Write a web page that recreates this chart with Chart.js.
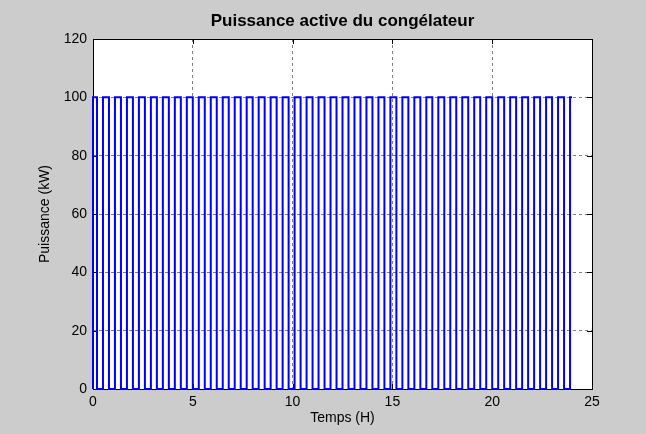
<!DOCTYPE html>
<html>
<head>
<meta charset="utf-8">
<script src="https://cdn.jsdelivr.net/npm/chart.js@4"></script>
<style>
  html, body { margin: 0; padding: 0; background: #cccccc; }
  #wrap { width: 646px; height: 434px; }
</style>
</head>
<body>
<div id="wrap"><canvas id="powerChart" width="646" height="434"></canvas></div>
<script>
// Compressor switching times (hours)
const onTimes = [0, 0.5, 1.1, 1.7, 2.3, 2.9, 3.5, 4.1, 4.7, 5.3, 5.9, 6.5, 7.1, 7.7,
  8.3, 8.9, 9.5, 10.1, 10.7, 11.3, 11.9, 12.5, 13.1, 13.7, 14.3, 14.9, 15.5, 16.1,
  16.7, 17.3, 17.9, 18.5, 19.1, 19.7, 20.3, 20.9, 21.5, 22.1, 22.7, 23.3, 23.9];
const offTimes = [0.2, 0.8, 1.4, 2.0, 2.6, 3.2, 3.8, 4.4, 5.0, 5.6, 6.2, 6.8, 7.4,
  8.0, 8.6, 9.2, 9.8, 10.4, 11.0, 11.6, 12.2, 12.8, 13.4, 14.0, 14.6, 15.2, 15.8,
  16.4, 17.0, 17.6, 18.2, 18.8, 19.4, 20.0, 20.6, 21.2, 21.8, 22.4, 23.0, 23.6];
const endTime = 24;
const powerOn = 100;
const powerOff = 0;

const xTicks = [0, 5, 10, 15, 20, 25];
const yTicks = [0, 20, 40, 60, 80, 100, 120];

// build the step series from the switching times
const points = [{ x: 0, y: powerOff }];
onTimes.forEach(t => points.push({ x: t, y: powerOn }));
offTimes.forEach(t => points.push({ x: t, y: powerOff }));
points.sort((a, b) => a.x - b.x || a.y - b.y);
points.push({ x: endTime, y: powerOn });

const FONT = 'Liberation Sans, Arial, sans-serif';

// white plot area, black box with inward ticks, titles
const framePlugin = {
  id: 'frame',
  beforeDraw(chart) {
    const { ctx, chartArea: a } = chart;
    ctx.save();
    ctx.fillStyle = '#cccccc';
    ctx.fillRect(0, 0, chart.width, chart.height);
    ctx.fillStyle = '#ffffff';
    ctx.fillRect(a.left, a.top, a.right - a.left, a.bottom - a.top);
    ctx.restore();
  },
  beforeDatasetsDraw(chart) {
    const { ctx, chartArea: a, scales } = chart;
    ctx.save();
    ctx.strokeStyle = '#000';
    ctx.lineWidth = 1;
    ctx.strokeRect(a.left + 0.5, a.top + 0.5, a.right - a.left, a.bottom - a.top);
    ctx.beginPath();
    xTicks.forEach(v => {
      const px = Math.round(scales.x.getPixelForValue(v)) + 0.5;
      ctx.moveTo(px, a.bottom); ctx.lineTo(px, a.bottom - 5);
      ctx.moveTo(px, a.top); ctx.lineTo(px, a.top + 5);
    });
    yTicks.forEach(v => {
      const py = Math.round(scales.y.getPixelForValue(v)) + 0.5;
      ctx.moveTo(a.left, py); ctx.lineTo(a.left + 5, py);
      ctx.moveTo(a.right, py); ctx.lineTo(a.right - 5, py);
    });
    ctx.stroke();
    ctx.restore();
  },
  afterDraw(chart) {
    const { ctx, chartArea: a } = chart;
    const cx = (a.left + a.right) / 2;
    ctx.save();
    ctx.fillStyle = '#000';
    ctx.textAlign = 'center';
    ctx.textBaseline = 'middle';
    ctx.font = 'bold 17px ' + FONT;
    ctx.fillText('Puissance active du congélateur', cx, 21);
    ctx.font = '14px ' + FONT;
    ctx.fillText('Temps (H)', cx, 418);
    ctx.translate(45, (a.top + a.bottom) / 2);
    ctx.rotate(-Math.PI / 2);
    ctx.fillText('Puissance (kW)', 0, 0);
    ctx.restore();
  }
};

new Chart(document.getElementById('powerChart'), {
  type: 'line',
  data: {
    datasets: [{
      data: points,
      borderColor: '#0000ff',
      borderWidth: 2,
      stepped: true,
      pointRadius: 0,
      fill: false,
      clip: 3
    }]
  },
  options: {
    responsive: false,
    animation: false,
    events: [],
    layout: { padding: { top: 39, right: 54, left: 0, bottom: 0 } },
    plugins: { legend: { display: false }, tooltip: { enabled: false } },
    scales: {
      x: {
        type: 'linear',
        min: 0,
        max: 25,
        afterFit(scale) { scale.height = 45; },
        afterBuildTicks(scale) { scale.ticks = xTicks.map(v => ({ value: v })); },
        ticks: { color: '#000', font: { family: FONT, size: 14 }, padding: 5, maxRotation: 0 },
        grid: { color: 'rgba(0,0,0,0.5)', lineWidth: 1, drawTicks: false },
        border: { display: false, dash: [3, 3] }
      },
      y: {
        min: 0,
        max: 120,
        afterFit(scale) { scale.width = 93; },
        afterBuildTicks(scale) { scale.ticks = yTicks.map(v => ({ value: v })); },
        ticks: { color: '#000', font: { family: FONT, size: 14 }, padding: 6 },
        grid: { color: 'rgba(0,0,0,0.5)', lineWidth: 1, drawTicks: false },
        border: { display: false, dash: [3, 3] }
      }
    }
  },
  plugins: [framePlugin]
});
</script>
</body>
</html>
